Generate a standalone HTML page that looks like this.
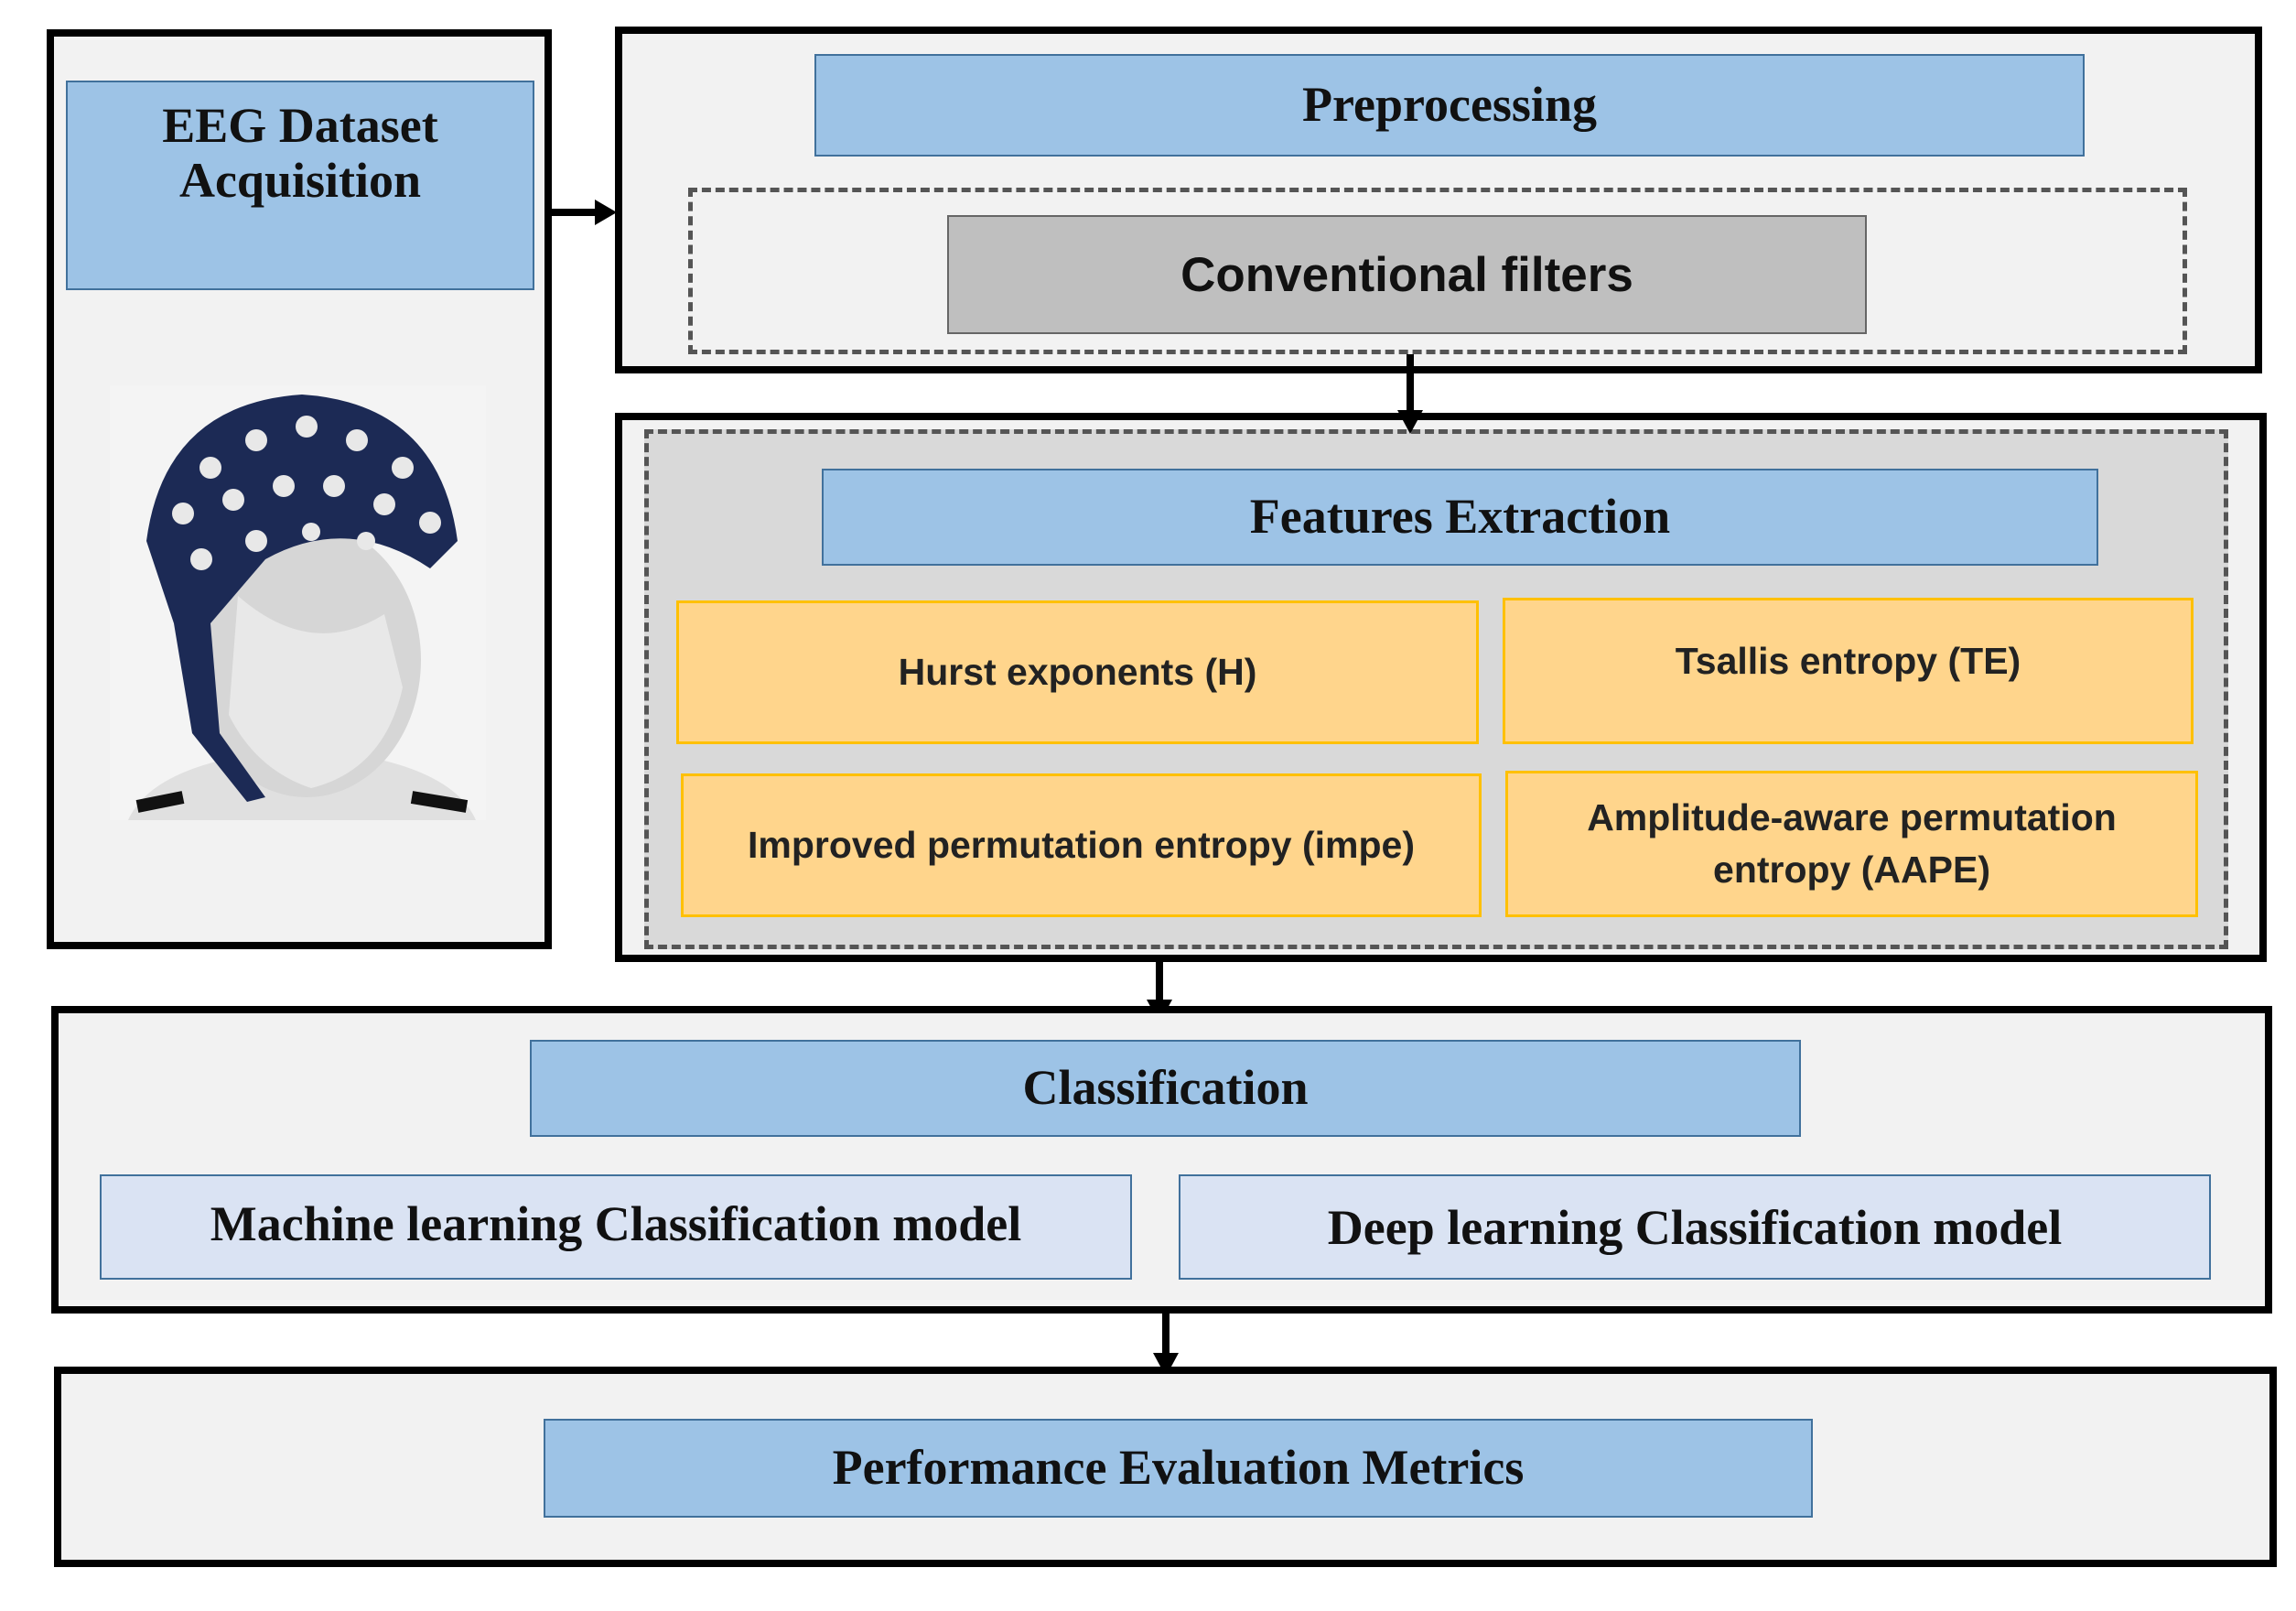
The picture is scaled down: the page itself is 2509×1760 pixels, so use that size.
<!DOCTYPE html>
<html><head><style>
body{margin:0;width:2509px;height:1760px;background:#fff;position:relative;overflow:hidden}
div{position:absolute;box-sizing:border-box}
.outer{background:#f2f2f2;border:8px solid #000}
.blue{background:#9dc3e6;border:2px solid #41719c;font-family:"Liberation Serif",serif;font-weight:bold;font-size:54px;color:#111;display:flex;align-items:center;justify-content:center;text-align:center;line-height:1.1}
.lblue{background:#dae3f3;border:2px solid #41719c;font-family:"Liberation Serif",serif;font-weight:bold;font-size:54px;color:#111;display:flex;align-items:center;justify-content:center}
.or{background:#ffd58c;border:3px solid #ffc000;font-family:"Liberation Sans",sans-serif;font-weight:bold;font-size:41px;color:#222;display:flex;align-items:center;justify-content:center;text-align:center;line-height:1.4}
.dash{border:5px dashed #555}
.v{background:#000;width:8px}
</style></head><body>
<div class="outer" style="left:51px;top:32px;width:552px;height:1005px"></div>
<div class="blue" style="left:72px;top:88px;width:512px;height:229px;padding-bottom:70px">EEG Dataset<br>Acquisition</div>
<svg style="position:absolute;left:120px;top:421px" width="411" height="475" viewBox="0 0 411 475">
<rect width="411" height="475" fill="#f4f4f4"/>
<path d="M20 475 Q40 430 120 410 L300 410 Q380 430 400 475Z" fill="#e0e0e0"/>
<path d="M30 460 L80 450 M330 450 L390 460" stroke="#111" stroke-width="14"/>
<ellipse cx="215" cy="300" rx="125" ry="150" fill="#d6d6d6"/>
<path d="M140 230 Q220 300 300 250 L320 330 Q300 420 220 440 Q160 420 130 360Z" fill="#e8e8e8"/>
<path d="M40 170 Q60 20 210 10 Q360 20 380 170 L350 200 Q260 140 170 190 L110 260 L120 380 L170 450 L150 455 L90 380 L70 260Z" fill="#1c2a55"/>
<g fill="#e8e8e8">
<circle cx="110" cy="90" r="12"/><circle cx="160" cy="60" r="12"/><circle cx="215" cy="45" r="12"/><circle cx="270" cy="60" r="12"/><circle cx="320" cy="90" r="12"/>
<circle cx="80" cy="140" r="12"/><circle cx="135" cy="125" r="12"/><circle cx="190" cy="110" r="12"/><circle cx="245" cy="110" r="12"/><circle cx="300" cy="130" r="12"/><circle cx="350" cy="150" r="12"/>
<circle cx="100" cy="190" r="12"/><circle cx="160" cy="170" r="12"/><circle cx="220" cy="160" r="10"/><circle cx="280" cy="170" r="10"/>
</g>
</svg>
<div style="left:603px;top:228px;width:55px;height:8px;background:#000"></div>
<svg style="position:absolute;left:650px;top:218px" width="24" height="28"><path d="M0 0 L24 14 L0 28Z" fill="#000"/></svg>

<div class="outer" style="left:672px;top:29px;width:1800px;height:379px"></div>
<div class="blue" style="left:890px;top:59px;width:1388px;height:112px">Preprocessing</div>
<div class="dash" style="left:752px;top:205px;width:1638px;height:182px"></div>
<div style="left:1035px;top:235px;width:1005px;height:130px;background:#bfbfbf;border:2px solid #666;font-family:'Liberation Sans',sans-serif;font-weight:bold;font-size:53px;display:flex;align-items:center;justify-content:center;color:#111">Conventional filters</div>

<div class="outer" style="left:672px;top:451px;width:1805px;height:600px"></div>
<div class="dash" style="left:704px;top:469px;width:1731px;height:568px;background:#d9d9d9"></div>
<div class="v" style="left:1537px;top:387px;height:70px"></div>
<svg style="position:absolute;left:1527px;top:448px" width="28" height="26"><path d="M0 0 L28 0 L14 26Z" fill="#000"/></svg>
<div class="blue" style="left:898px;top:512px;width:1395px;height:106px">Features Extraction</div>
<div class="or" style="left:739px;top:656px;width:877px;height:157px">Hurst exponents (H)</div>
<div class="or" style="left:1642px;top:653px;width:755px;height:160px;padding-bottom:20px">Tsallis entropy (TE)</div>
<div class="or" style="left:744px;top:845px;width:875px;height:157px">Improved permutation entropy (impe)</div>
<div class="or" style="left:1645px;top:842px;width:757px;height:160px">Amplitude-aware permutation<br>entropy (AAPE)</div>

<div class="v" style="left:1263px;top:1045px;height:55px"></div>
<svg style="position:absolute;left:1253px;top:1092px" width="28" height="26"><path d="M0 0 L28 0 L14 26Z" fill="#000"/></svg>
<div class="outer" style="left:56px;top:1099px;width:2427px;height:336px"></div>
<div class="blue" style="left:579px;top:1136px;width:1389px;height:106px">Classification</div>
<div class="lblue" style="left:109px;top:1283px;width:1128px;height:115px;padding-bottom:8px">Machine learning Classification model</div>
<div class="lblue" style="left:1288px;top:1283px;width:1128px;height:115px">Deep learning Classification model</div>

<div class="v" style="left:1270px;top:1431px;height:55px"></div>
<svg style="position:absolute;left:1260px;top:1478px" width="28" height="26"><path d="M0 0 L28 0 L14 26Z" fill="#000"/></svg>
<div class="outer" style="left:59px;top:1493px;width:2429px;height:219px"></div>
<div class="blue" style="left:594px;top:1550px;width:1387px;height:108px">Performance Evaluation Metrics</div>
</body></html>
